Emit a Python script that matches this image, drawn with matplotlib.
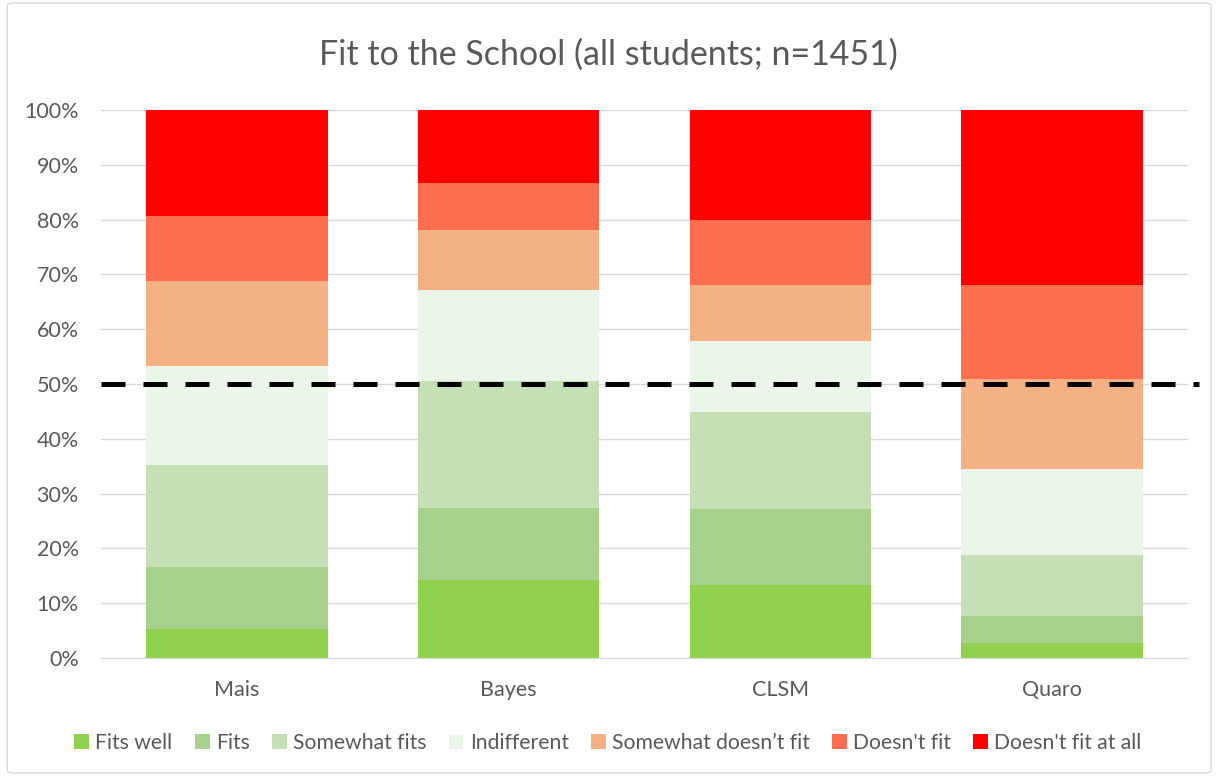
import matplotlib
matplotlib.use("Agg")
import matplotlib.pyplot as plt
from matplotlib.patches import FancyBboxPatch
import numpy as np

plt.rcParams['font.family'] = ['Lato', 'DejaVu Sans']

schools = ["Mais", "Bayes", "CLSM", "Quaro"]
categories = ["Fits well", "Fits", "Somewhat fits", "Indifferent",
              "Somewhat doesn\u2019t fit", "Doesn't fit", "Doesn't fit at all"]
colors = ["#92D050", "#A9D18E", "#C5E0B4", "#EBF5E9", "#F4B183", "#FF6F4F", "#FF0000"]

# shares in percent, per category (order of schools)
fits_well = [5.3, 14.2, 13.4, 2.7]
fits = [11.3, 13.2, 13.7, 4.9]
somewhat_fits = [18.7, 23.2, 17.7, 11.2]
indifferent = [17.9, 16.6, 13.1, 15.6]
somewhat_doesnt = [15.6, 10.9, 10.2, 16.5]
doesnt_fit = [11.8, 8.6, 11.9, 17.1]
doesnt_fit_at_all = [19.4, 13.3, 20.0, 32.0]

series = [fits_well, fits, somewhat_fits, indifferent,
          somewhat_doesnt, doesnt_fit, doesnt_fit_at_all]

fig = plt.figure(figsize=(12.16, 7.76), dpi=100)
border = FancyBboxPatch((0.006, 0.004), 0.99, 0.992, boxstyle="round,pad=0,rounding_size=0.004",
                        transform=fig.transFigure, fill=False, edgecolor="#D9D9D9", linewidth=1)
fig.patches.append(border)

ax = fig.add_axes([101/1216, 1-658/776, (1188-101)/1216, (658-110)/776])
x = np.arange(len(schools))
bottom = np.zeros(len(schools))
for name, vals, col in zip(categories, series, colors):
    vals = np.array(vals)
    ax.bar(x, vals, 0.667, bottom=bottom, color=col, label=name, zorder=2)
    bottom += vals

ax.plot([-0.5, 3.54], [50, 50], color="black", linestyle=(0, (4.8, 3.6)), linewidth=3.6,
        zorder=3, clip_on=False)

ax.set_xlim(-0.5, 3.5)
ax.set_ylim(0, 100)
ax.set_yticks(np.arange(0, 101, 10))
ax.set_yticklabels([f"{v}%" for v in range(0, 101, 10)])
ax.set_xticks(x)
ax.set_xticklabels(schools)
ax.yaxis.grid(True, color="#D9D9D9", linewidth=1, zorder=0)
ax.set_axisbelow(True)
for s in ["top", "right", "left"]:
    ax.spines[s].set_visible(False)
ax.spines["bottom"].set_color("#D9D9D9")
ax.tick_params(axis="both", length=0, labelsize=15.5, labelcolor="#595959")
ax.tick_params(axis="x", pad=16)
ax.tick_params(axis="y", pad=16)

fig.text(0.5, 1-55/776, "Fit to the School (all students; n=1451)", ha="center", va="center",
         fontsize=24.5, color="#595959")

handles, labels = ax.get_legend_handles_labels()
fig.legend(handles, labels, loc="center", bbox_to_anchor=(0.5, 1-743/776), ncol=7,
           frameon=False, fontsize=15.2, handlelength=0.7, handleheight=0.7,
           handletextpad=0.3, columnspacing=1.05, labelcolor="#595959")

fig.savefig("out.png", dpi=100)
